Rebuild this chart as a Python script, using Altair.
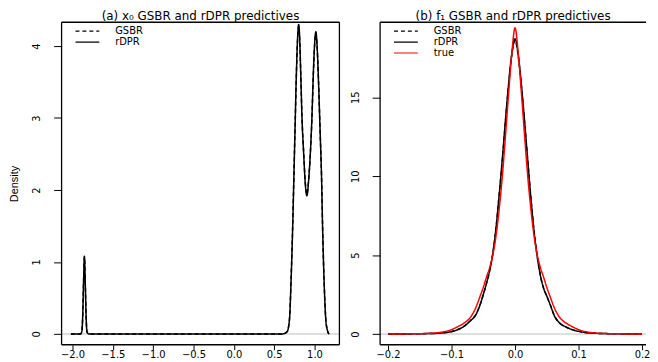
import altair as alt
import pandas as pd

# ---------------- Panel (a): x0 predictive densities ----------------
a_x = [-2.02, -1.95, -1.90, -1.885, -1.873, -1.863, -1.852, -1.841, -1.831, -1.82, -1.80,
       0.60, 0.66, 0.69, 0.71, 0.73, 0.745, 0.76, 0.775, 0.79, 0.804, 0.815, 0.83, 0.845,
       0.866, 0.885, 0.906, 0.925, 0.948, 0.968, 0.985, 1.0, 1.017, 1.03, 1.05, 1.07,
       1.087, 1.10, 1.12, 1.14, 1.16, 1.18]
a_rdpr = [0, 0, 0, 0.03, 0.25, 0.7, 1.08, 0.7, 0.25, 0.03, 0,
          0, 0.03, 0.2, 0.75, 1.5, 2.2, 2.9, 3.6, 4.1, 4.3, 4.15, 3.6, 3.0,
          2.5, 2.1, 1.92, 2.1, 2.5, 3.0, 3.6, 4.0, 4.2, 4.05, 3.5, 2.8,
          2.2, 1.5, 0.7, 0.2, 0.05, 0]
a_gsbr = [0, 0, 0, 0.03, 0.26, 0.71, 1.07, 0.69, 0.24, 0.03, 0,
          0, 0.03, 0.21, 0.76, 1.52, 2.21, 2.9, 3.58, 4.08, 4.28, 4.13, 3.61, 3.02,
          2.52, 2.12, 1.94, 2.11, 2.49, 2.99, 3.58, 3.98, 4.18, 4.04, 3.51, 2.81,
          2.21, 1.51, 0.71, 0.21, 0.05, 0]

# ---------------- Panel (b): f1 predictive densities ----------------
b_x = [-0.20, -0.16, -0.14, -0.12, -0.11, -0.10, -0.09, -0.08, -0.07, -0.062, -0.055,
       -0.05, -0.045, -0.04, -0.035, -0.03, -0.025, -0.02, -0.015, -0.01, -0.005, 0.0,
       0.005, 0.01, 0.015, 0.02, 0.025, 0.03, 0.035, 0.04, 0.045, 0.05, 0.055, 0.062,
       0.07, 0.08, 0.09, 0.10, 0.11, 0.12, 0.14, 0.16, 0.20]
b_rdpr = [0.002, 0.01, 0.025, 0.05, 0.09, 0.15, 0.28, 0.5, 0.85, 1.2, 1.85,
          2.5, 3.2, 4.0, 5.1, 6.7, 8.8, 11.1, 13.6, 15.9, 17.8, 18.7,
          17.7, 15.8, 13.5, 11.0, 8.6, 6.5, 4.9, 3.7, 2.9, 2.4, 1.9, 1.15,
          0.7, 0.45, 0.28, 0.17, 0.1, 0.06, 0.03, 0.012, 0.002]
b_gsbr = [0.002, 0.01, 0.026, 0.05, 0.09, 0.16, 0.29, 0.5, 0.86, 1.22, 1.86,
          2.5, 3.2, 4.02, 5.1, 6.7, 8.8, 11.0, 13.5, 15.8, 17.7, 18.6,
          17.6, 15.7, 13.4, 11.0, 8.6, 6.5, 4.9, 3.7, 2.9, 2.4, 1.9, 1.16,
          0.71, 0.45, 0.28, 0.17, 0.1, 0.06, 0.03, 0.012, 0.002]
b_true = [0.003, 0.015, 0.035, 0.09, 0.16, 0.28, 0.47, 0.7, 1.07, 1.65, 2.4,
          2.95, 3.6, 4.2, 5.0, 6.2, 7.9, 10.0, 12.6, 15.3, 17.8, 19.4,
          17.8, 15.3, 12.6, 10.0, 7.9, 6.2, 5.0, 4.2, 3.6, 2.95, 2.4, 1.65,
          1.07, 0.7, 0.47, 0.28, 0.16, 0.09, 0.035, 0.015, 0.003]

a_ticks_x = [-2.0, -1.5, -1.0, -0.5, 0.0, 0.5, 1.0]
a_ticks_y = [0, 1, 2, 3, 4]
b_ticks_x = [-0.2, -0.1, 0.0, 0.1, 0.2]
b_ticks_y = [0, 5, 10, 15]

df_a = pd.concat([
    pd.DataFrame({"x": a_x, "density": a_gsbr, "series": "GSBR"}),
    pd.DataFrame({"x": a_x, "density": a_rdpr, "series": "rDPR"}),
])
df_b = pd.concat([
    pd.DataFrame({"x": b_x, "density": b_gsbr, "series": "GSBR"}),
    pd.DataFrame({"x": b_x, "density": b_rdpr, "series": "rDPR"}),
    pd.DataFrame({"x": b_x, "density": b_true, "series": "true"}),
])

FONT = "DejaVu Sans"
PLOT_H = 325


def legend():
    return alt.Legend(title=None, orient="none", legendX=20, legendY=3,
                      symbolType="M-2.4,0H2.4", symbolSize=100, symbolStrokeWidth=1.2,
                      labelFont=FONT, labelFontSize=10, labelColor="black",
                      labelOffset=22, rowPadding=0, padding=0)


def panel(df, width, xdom, ydom, xt, yt, title, sdom, colors, dashes, ytitle, right_edge):
    xsc = alt.Scale(domain=xdom, nice=False, zero=False)
    ysc = alt.Scale(domain=ydom, nice=False, zero=False)
    yaxis = alt.Axis(values=yt, labelAngle=270, labelAlign="center", labelBaseline="bottom",
                     tickSize=8, labelPadding=12, labelFont=FONT, labelFontSize=10,
                     grid=False, domain=False,
                     title=ytitle, titleFont="Liberation Sans", titleFontSize=11,
                     titleFontWeight="normal", titlePadding=12)
    xaxis = alt.Axis(values=xt, format=".1f", tickSize=5, labelPadding=0, grid=False,
                     domain=False, labelFont=FONT, labelFontSize=10, title=None)
    zero = alt.Chart(pd.DataFrame({"density": [0]})).mark_rule(
        color="#bdbdbd", strokeWidth=1).encode(y=alt.Y("density:Q", scale=ysc, axis=yaxis))
    lines = alt.Chart(df).mark_line(strokeWidth=1.5, clip=True, interpolate="monotone").encode(
        x=alt.X("x:Q", scale=xsc, axis=xaxis),
        y=alt.Y("density:Q", scale=ysc, axis=yaxis),
        color=alt.Color("series:N", scale=alt.Scale(domain=sdom, range=colors), legend=legend()),
        strokeDash=alt.StrokeDash("series:N", scale=alt.Scale(domain=sdom, range=dashes),
                                  legend=legend()),
    )
    x0, x1 = xdom
    y0, y1 = ydom
    ex = [x0, x0, x0]
    ex2 = [x1, x1, x0]
    ey = [y1, y0, y0]
    ey2 = [y1, y0, y1]
    if right_edge:
        ex.append(x1)
        ex2.append(x1)
        ey.append(y0)
        ey2.append(y1)
    edges = pd.DataFrame({"x": ex, "x2": ex2, "density": ey, "y2": ey2})
    frame = alt.Chart(edges).mark_rule(color="black", strokeWidth=1.3).encode(
        x=alt.X("x:Q", scale=xsc, axis=xaxis), x2="x2:Q",
        y=alt.Y("density:Q", scale=ysc, axis=yaxis), y2="y2:Q",
    )
    return alt.layer(zero, lines, frame).properties(
        width=width, height=PLOT_H,
        title=alt.TitleParams(title, font=FONT, fontSize=12, fontWeight="normal",
                              color="black", anchor="middle", offset=-1),
    )


left = panel(df_a, 280, [-2.135, 1.309], [-0.15, 4.33], a_ticks_x, a_ticks_y,
             "(a) x\u2080 GSBR and rDPR predictives", ["GSBR", "rDPR"],
             ["black", "black"], [[4, 3], [1, 0]], "Density", True)
right = panel(df_b, 268, [-0.2125, 0.2063], [-0.68, 19.75], b_ticks_x, b_ticks_y,
              "(b) f\u2081 GSBR and rDPR predictives", ["GSBR", "rDPR", "true"],
              ["black", "black", "#ff0000"], [[4, 3], [1, 0], [1, 0]], None, False)

chart = alt.hconcat(left, right, spacing=10).resolve_scale(
    color="independent", strokeDash="independent"
).properties(padding=0, background="white").configure_view(
    strokeWidth=0
).configure_axis(
    domain=False, grid=False, tickColor="black", labelColor="black", titleColor="black"
)

chart.save("out.html", embed_options={"renderer": "svg", "actions": False})
